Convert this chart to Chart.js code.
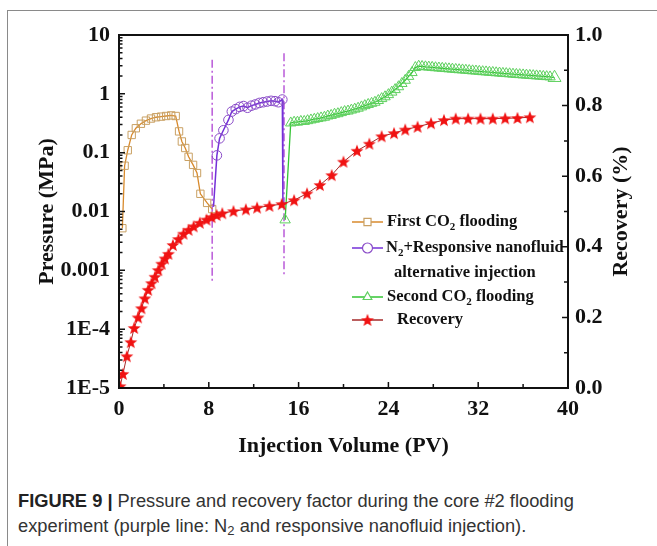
<!DOCTYPE html>
<html>
<head>
<meta charset="utf-8">
<script src="https://cdn.jsdelivr.net/npm/chart.js@4.4.1/dist/chart.umd.min.js"></script>
<style>
  body { margin: 0; background: #fff; width: 657px; height: 546px; overflow: hidden; position: relative; }
  .frame { position: absolute; left: 7px; top: 10px; width: 700px; height: 600px;
           border-left: 1.5px solid #8a8a8a; border-top: 1.5px solid #8a8a8a; }
  #chart { position: absolute; left: 0; top: 0; }
  .caption { position: absolute; left: 18px; top: 488px; font-family: 'Liberation Sans', Arial, sans-serif;
             font-size: 18.3px; line-height: 25px; color: #333; white-space: nowrap; }
  .caption b { color: #222; }
  .caption sub { font-size: 13px; vertical-align: -3px; line-height: 0; }
</style>
</head>
<body>
<div class="frame"></div>
<canvas id="chart" width="657" height="470"></canvas>
<div class="caption">
  <b>FIGURE 9 |</b> Pressure and recovery factor during the core #2 flooding<br>
  experiment (purple line: N<sub>2</sub> and responsive nanofluid injection).
</div>
<script>
// ---- data ----
const xTicks = [0, 8, 16, 24, 32, 40];
const pressureTicks = [1e-5, 1e-4, 1e-3, 0.01, 0.1, 1, 10];
const pressureTickLabels = ['1E-5', '1E-4', '0.001', '0.01', '0.1', '1', '10'];

// First CO2 flooding (pressure, MPa)
const firstCO2X = [0.3, 0.5, 0.78, 1.13, 1.5, 1.95, 2.4, 2.85, 3.3, 3.75, 4.2, 4.65, 5.05,
                   5.35, 5.6, 5.9, 6.2, 6.6, 6.95, 7.25, 7.85, 8.3];
const firstCO2P = [0.0052, 0.06, 0.11, 0.2, 0.26, 0.31, 0.35, 0.38, 0.4, 0.41, 0.42, 0.43, 0.42,
                   0.23, 0.155, 0.12, 0.085, 0.062, 0.045, 0.02, 0.014, 0.011];

// N2 + responsive nanofluid alternative injection (pressure, MPa)
const n2X = [8.42, 8.72, 8.96, 9.3, 9.75, 10.05, 10.4, 10.75, 11.1, 11.45, 11.8, 12.15, 12.5,
             12.85, 13.2, 13.55, 13.9, 14.2, 14.55, 14.6];
const n2P = [0.012, 0.09, 0.175, 0.24, 0.36, 0.5, 0.55, 0.6, 0.62, 0.58, 0.63, 0.66, 0.7,
             0.72, 0.74, 0.76, 0.75, 0.72, 0.8, 0.014];

// Second CO2 flooding (pressure, MPa)
const secondCO2X = [14.8, 15.3, 15.6, 15.9, 16.2, 16.5, 16.8, 17.1, 17.4, 17.7, 18.0, 18.3, 18.6,
                    18.9, 19.2, 19.5, 19.8, 20.1, 20.4, 20.7, 21.0, 21.3, 21.6, 21.9, 22.2, 22.5,
                    22.8, 23.1, 23.4, 23.7, 24.0, 24.3, 24.6, 24.9, 25.2, 25.5, 25.8, 26.1, 26.4,
                    26.7, 27.0, 27.3, 27.6, 27.9, 28.2, 28.5, 28.8, 29.1, 29.4, 29.7, 30.0, 30.3,
                    30.6, 30.9, 31.2, 31.5, 31.8, 32.1, 32.4, 32.7, 33.0, 33.3, 33.6, 33.9, 34.2,
                    34.5, 34.8, 35.1, 35.4, 35.7, 36.0, 36.3, 36.6, 36.9, 37.2, 37.5, 37.8, 38.1,
                    38.4, 38.8];
const secondCO2P = [0.0072, 0.32, 0.33, 0.33, 0.34, 0.34, 0.35, 0.36, 0.37, 0.38, 0.39, 0.4, 0.42,
                    0.43, 0.45, 0.46, 0.48, 0.5, 0.51, 0.53, 0.55, 0.57, 0.6, 0.63, 0.66, 0.69,
                    0.72, 0.77, 0.83, 0.89, 0.97, 1.07, 1.18, 1.32, 1.5, 1.7, 1.98, 2.3, 2.8,
                    2.95, 2.92, 2.88, 2.85, 2.82, 2.78, 2.75, 2.72, 2.69, 2.66, 2.63, 2.6, 2.57,
                    2.55, 2.52, 2.49, 2.46, 2.44, 2.41, 2.38, 2.36, 2.33, 2.31, 2.28, 2.26, 2.23,
                    2.21, 2.19, 2.16, 2.14, 2.12, 2.1, 2.08, 2.06, 2.04, 2.02, 2.0, 1.98, 1.96,
                    1.94, 1.88];

// Recovery (fraction, right axis)
const recoveryX = [0.1, 0.35, 0.7, 1.05, 1.35, 1.7, 2.0, 2.3, 2.6, 2.9, 3.2, 3.5, 3.8, 4.1, 4.4,
                   4.8, 5.3, 5.75, 6.2, 6.65, 7.2, 7.8, 8.25, 8.7, 9.2, 10.2, 11.3, 12.3, 13.4,
                   14.5, 15.6, 16.75, 17.9, 18.95, 20.0, 21.2, 22.3, 23.4, 24.5, 25.5, 26.6,
                   27.8, 28.95, 30.0, 31.1, 32.2, 33.3, 34.4, 35.5, 36.6];
const recoveryR = [0.005, 0.04, 0.09, 0.13, 0.17, 0.2, 0.226, 0.254, 0.278, 0.297, 0.315, 0.334,
                   0.352, 0.367, 0.38, 0.405, 0.422, 0.437, 0.448, 0.458, 0.468, 0.477, 0.484,
                   0.49, 0.495, 0.501, 0.506, 0.511, 0.516, 0.521, 0.532, 0.551, 0.575, 0.603,
                   0.641, 0.672, 0.692, 0.713, 0.722, 0.732, 0.74, 0.75, 0.759, 0.763, 0.763,
                   0.763, 0.763, 0.764, 0.765, 0.767];

// stage boundaries (dash-dot purple lines)
const dividerX = [8.3, 14.7];
const dividerTop = [3.8, 4.9];
const dividerBottom = [0.00061, 0.00078];

const SERIF = "'Liberation Serif', 'Times New Roman', serif";
const INK = '#111';

const pts = (xs, ys) => xs.map((x, i) => ({ x: x, y: ys[i] }));

function makeStar(r, color) {
  const c = document.createElement('canvas');
  const s = Math.ceil(r * 2 + 2);
  c.width = c.height = s;
  const g = c.getContext('2d');
  g.beginPath();
  for (let i = 0; i < 10; i++) {
    const rad = i % 2 ? r * 0.42 : r;
    const ang = -Math.PI / 2 + i * Math.PI / 5;
    g.lineTo(s / 2 + rad * Math.cos(ang), s / 2 + rad * Math.sin(ang) + 0.6);
  }
  g.closePath();
  g.fillStyle = color;
  g.fill();
  return c;
}
const starImg = makeStar(6.8, '#f01212');

// inward tick marks, plot box and the right-hand title (reads bottom to top)
const frameTicks = {
  id: 'frameTicks',
  afterDraw(chart) {
    const { ctx, chartArea: a, scales } = chart;
    ctx.save();
    ctx.strokeStyle = INK;
    ctx.lineWidth = 1.5;
    ctx.beginPath();
    for (let v = 0; v <= 40; v += 4) {
      const px = scales.x.getPixelForValue(v);
      const len = v % 8 === 0 ? 6 : 4;
      ctx.moveTo(px, a.bottom); ctx.lineTo(px, a.bottom - len);
    }
    for (let e = -5; e < 1; e++) {
      for (let m = 1; m <= 9; m++) {
        const py = scales.y.getPixelForValue(m * Math.pow(10, e));
        const len = m === 1 ? 6 : 3.5;
        ctx.moveTo(a.left, py); ctx.lineTo(a.left + len, py);
      }
    }
    for (let k = 1; k < 10; k++) {
      const py = scales.y1.getPixelForValue(k / 10);
      const len = k % 2 === 0 ? 6 : 4;
      ctx.moveTo(a.right, py); ctx.lineTo(a.right - len, py);
    }
    ctx.stroke();
    ctx.lineWidth = 2;
    ctx.strokeRect(a.left, a.top, a.right - a.left, a.bottom - a.top);

    ctx.translate(621, (a.top + a.bottom) / 2);
    ctx.rotate(-Math.PI / 2);
    ctx.font = 'bold 22px ' + SERIF;
    ctx.fillStyle = INK;
    ctx.textAlign = 'center';
    ctx.textBaseline = 'middle';
    ctx.fillText('Recovery (%)', 0, 0);
    ctx.restore();
  }
};

// legend drawn inside the plot like the original
const legendRows = [
  { ds: 3, parts: [['First CO', 0], ['2', 1], [' flooding', 0]], y: 222, tx: 387 },
  { ds: 2, parts: [['N', 0], ['2', 1], ['+Responsive nanofluid', 0]], y: 248, tx: 386 },
  { ds: -1, parts: [['alternative injection', 0]], y: 273, tx: 394 },
  { ds: 1, parts: [['Second CO', 0], ['2', 1], [' flooding', 0]], y: 297, tx: 387 },
  { ds: 0, parts: [['Recovery', 0]], y: 320, tx: 397 }
];
const innerLegend = {
  id: 'innerLegend',
  afterDraw(chart) {
    const ctx = chart.ctx;
    ctx.save();
    legendRows.forEach(row => {
      if (row.ds >= 0) {
        const d = chart.data.datasets[row.ds];
        ctx.strokeStyle = d.borderColor;
        ctx.lineWidth = 1.5;
        ctx.beginPath();
        ctx.moveTo(352, row.y); ctx.lineTo(383, row.y);
        ctx.stroke();
        if (d.pointStyle === starImg) {
          ctx.drawImage(starImg, 367.5 - starImg.width / 2, row.y - starImg.height / 2);
        } else {
          ctx.fillStyle = '#fff';
          ctx.strokeStyle = d.pointBorderColor;
          ctx.lineWidth = 1.2;
          Chart.helpers.drawPoint(ctx, { pointStyle: d.pointStyle, radius: 5, borderWidth: 1.2 }, 367.5, row.y);
        }
      }
      let x = row.tx;
      ctx.fillStyle = INK;
      ctx.textBaseline = 'middle';
      row.parts.forEach(([t, sub]) => {
        ctx.font = 'bold ' + (sub ? 11 : 16.5) + 'px ' + SERIF;
        ctx.fillText(t, x, row.y + (sub ? 5 : 0));
        x += ctx.measureText(t).width;
      });
    });
    ctx.restore();
  }
};

const tickFont = { family: SERIF, size: 22, weight: 'bold' };
const titleFont = { family: SERIF, size: 22, weight: 'bold' };

new Chart(document.getElementById('chart'), {
  type: 'line',
  data: {
    datasets: [
      {
        label: 'Recovery',
        data: pts(recoveryX, recoveryR),
        yAxisID: 'y1',
        borderColor: '#a52a2a',
        borderWidth: 1,
        pointStyle: starImg,
        pointRadius: 7,
        order: 0
      },
      {
        label: 'Second CO2 flooding',
        data: pts(secondCO2X, secondCO2P),
        yAxisID: 'y',
        borderColor: '#33c433',
        borderWidth: 1.3,
        pointStyle: 'triangle',
        pointRadius: c => c.dataIndex === secondCO2X.length - 1 ? 7.5 : 6,
        pointBorderColor: '#5fd05f',
        pointBackgroundColor: 'rgba(255,255,255,0)',
        pointBorderWidth: 1,
        order: 1
      },
      {
        label: 'N2+Responsive nanofluid alternative injection',
        data: pts(n2X, n2P),
        yAxisID: 'y',
        borderColor: '#7430d8',
        borderWidth: 1.5,
        pointStyle: 'circle',
        pointRadius: c => (c.dataIndex === 0 || c.dataIndex === n2X.length - 1) ? 0 : 4.8,
        pointBorderColor: '#8a4cc8',
        pointBackgroundColor: 'rgba(255,255,255,0)',
        pointBorderWidth: 1,
        order: 2
      },
      {
        label: 'First CO2 flooding',
        data: pts(firstCO2X, firstCO2P),
        yAxisID: 'y',
        borderColor: '#d88a2c',
        borderWidth: 1.3,
        pointStyle: 'rect',
        pointRadius: 5.2,
        pointBorderColor: '#c9a063',
        pointBackgroundColor: 'rgba(255,255,255,0)',
        pointBorderWidth: 1,
        order: 3
      },
      ...dividerX.map((x, i) => ({
        label: 'divider' + i,
        data: [{ x: x, y: dividerTop[i] }, { x: x, y: dividerBottom[i] }],
        yAxisID: 'y',
        borderColor: '#b54fd6',
        borderWidth: 1.4,
        borderDash: [8, 3, 2, 3],
        pointRadius: 0,
        order: 5
      }))
    ]
  },
  options: {
    responsive: false,
    animation: false,
    events: [],
    layout: { padding: { top: 35, left: 0, right: 0, bottom: 0 } },
    plugins: { legend: { display: false }, tooltip: { enabled: false } },
    scales: {
      x: {
        type: 'linear',
        min: 0,
        max: 40,
        afterBuildTicks: s => { s.ticks = xTicks.map(v => ({ value: v })); },
        ticks: { font: tickFont, color: INK, padding: 8 },
        grid: { display: false, drawTicks: false },
        border: { display: false },
        title: { display: true, text: 'Injection Volume (PV)', font: titleFont, color: INK, padding: { top: 0, bottom: 10 } },
        afterFit: s => { s.height = 82; }
      },
      y: {
        type: 'logarithmic',
        position: 'left',
        min: 1e-5,
        max: 10,
        afterBuildTicks: s => { s.ticks = pressureTicks.map(v => ({ value: v })); },
        ticks: { font: tickFont, color: INK, padding: 9, callback: (v, i) => pressureTickLabels[i] },
        grid: { display: false, drawTicks: false },
        border: { display: false },
        title: { display: true, text: 'Pressure (MPa)', font: titleFont, color: INK, padding: { top: 34, bottom: 0 } },
        afterFit: s => { s.width = 119; }
      },
      y1: {
        type: 'linear',
        position: 'right',
        min: 0,
        max: 1,
        ticks: { font: tickFont, color: INK, padding: 7, stepSize: 0.2, callback: v => v.toFixed(1) },
        grid: { display: false, drawTicks: false },
        border: { display: false },
        afterFit: s => { s.width = 89; }
      }
    }
  },
  plugins: [frameTicks, innerLegend]
});
</script>
</body>
</html>
